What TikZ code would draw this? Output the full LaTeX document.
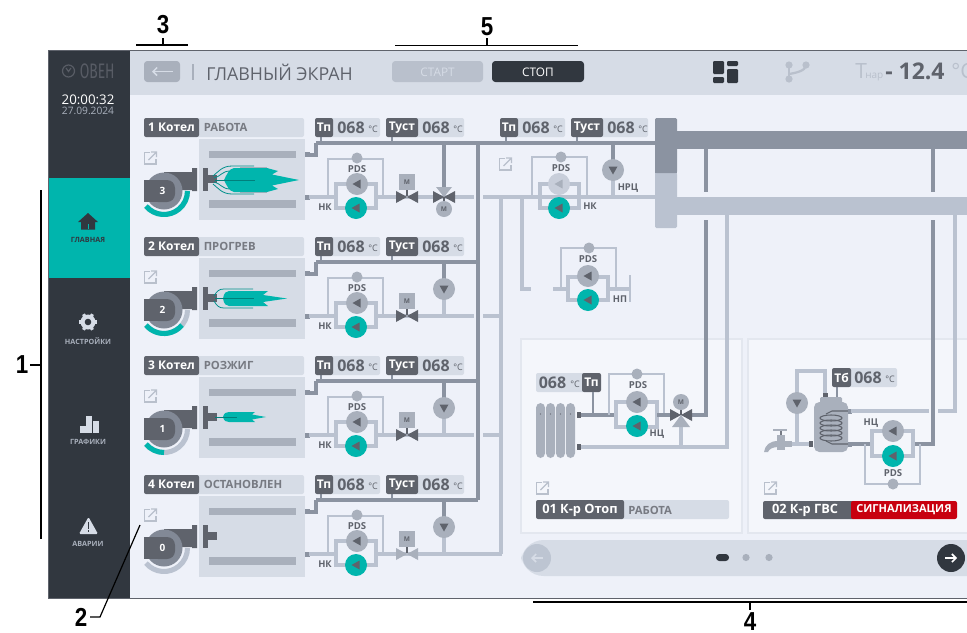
\documentclass[tikz,border=0pt]{standalone}
\usepackage{fontspec}
\usetikzlibrary{arrows.meta}
\setmainfont{Open Sans}
\newfontfamily\annfont{Liberation Sans}
\newfontfamily\logofont{Fira Sans}
\definecolor{dk}{HTML}{31373F}
\definecolor{gr}{HTML}{5F636C}
\definecolor{md}{HTML}{A9B0BC}
\definecolor{hot}{HTML}{8B93A1}
\definecolor{cold}{HTML}{BAC2D0}
\definecolor{lt}{HTML}{D6DCE6}
\definecolor{bgc}{HTML}{EEF1F9}
\definecolor{tl}{HTML}{00B5AD}
\definecolor{tld}{HTML}{00807C}
\definecolor{crd}{HTML}{F4F6FB}
\definecolor{crb}{HTML}{E3E7EF}
\definecolor{ext}{HTML}{B9C0CC}
\definecolor{sig}{HTML}{C8000F}
\newcounter{nn}
\newcommand{\fs}[1]{\fontsize{\dimexpr#1pt*3/4\relax}{\dimexpr#1pt*3/4\relax}\selectfont}
\newcommand{\lab}[5][center]{\stepcounter{nn}\node[inner sep=0,anchor=#1,text=#3] (t\thenn) at (#2) {#4#5};}
\newcommand{\annum}[2]{\lab{#1}{black}{\annfont\bfseries\fs{26}}{\scalebox{.86}[1]{#2}}}
\tikzset{
 hotp/.style={draw=hot,line width=2.9pt},
 hotpw/.style={draw=hot,line width=2.6pt},
 coldp/.style={draw=cold,line width=2.6pt},
 thinp/.style={draw=cold,line width=1.3pt},
 ann/.style={draw=black,line width=0.9pt},
 extic/.style={draw=ext,line width=0.9pt},
}
\newcommand{\extlink}[2]{\begin{scope}[shift={(#1,#2)}]
 \draw[extic] (6,1.5)--(0.5,1.5)--(0.5,13)--(12,13)--(12,7.5);
 \draw[extic] (4.5,9)--(12,1.5) (7,1)--(12.5,1)--(12.5,6);
 \end{scope}}
\newcommand{\pumpL}[4]{\fill[#3] (#1,#2) circle (11);
 \fill[#4] (#1-4.5,#2)--(#1+3.5,#2-4.5)--(#1+3.5,#2+4.5)--cycle;}
\newcommand{\pumpD}[2]{\fill[md] (#1,#2) circle (11);
 \fill[gr] (#1,#2+4.5)--(#1-4.5,#2-3.5)--(#1+4.5,#2-3.5)--cycle;}
\newcommand{\vbow}[3]{\fill[#3] (#1-11,#2-6)--(#1,#2)--(#1-11,#2+6)--cycle;
 \fill[#3] (#1+11,#2-6)--(#1,#2)--(#1+11,#2+6)--cycle;}
\newcommand{\squarem}[2]{\fill[md] (#1-8,#2-8) rectangle (#1+8,#2+8);
 \lab{#1,#2}{gr}{\bfseries\fs{6.5}}{М}
 \draw[gr,line width=0.8pt] (#1,#2+8)--(#1,#2+14);}
\newcommand{\circm}[2]{\fill[md] (#1,#2) circle (8);
 \lab{#1,#2}{gr}{\bfseries\fs{6.5}}{М}}
\newcommand{\tagbox}[5]{% y, x0, x1, x2, label
 \fill[lt,rounded corners=1.5] (#3-3,#1) rectangle (#4,#1+19);
 \fill[gr,rounded corners=1.5] (#2,#1) rectangle (#3,#1+19);
 \lab{#2/2+#3/2,#1+9.5}{white}{\bfseries\fs{12}}{#5}
 \lab[west]{#3+4,#1+9.7}{gr}{\bfseries\fs{16}}{068}
 \lab[west]{#3+35,#1+11}{gr}{\fs{9}}{°C}}
\newcommand{\boilerrow}[7]{% dy, num, name, gaugeang-end, valve colour, gnum, flame code
\begin{scope}[shift={(0,#1)}]
 \fill[lt,rounded corners=1.5] (196,118) rectangle (304,137);
 \fill[gr,rounded corners=1.5] (144,118) rectangle (199,137);
 \lab{171.5,127.5}{white}{\bfseries\fs{12}}{#2 Котел}
 \lab[west]{203.5,127.5}{gr!85!white}{\bfseries\fs{11.3}}{#3}
 \fill[lt] (199,139) rectangle (305,220);
 \fill[md] (209,151) rectangle (296,158);
 \fill[md] (209,200) rectangle (296,208);
 \extlink{144}{151}
 \fill[gr] (164,172)--(192,172)--(192,168)--(197,168)--(197,191)--(192,191)--(192,190)--(178,190)--(164,190)--cycle;
 \draw[cold,line width=3.8pt] (164,191)+(140:23.5) arc (140:0:23.5);
 \ifnum#4<140 \draw[tl,line width=3.8pt] (164,191)+(140:23.5) arc (140:#4:23.5);\fi
 \fill[hot!80!gr] (164,191) circle (18.5);
 \fill[gr,rounded corners=6] (150,180) rectangle (175,202);
 \fill[gr] (144,180) rectangle (160,202);
 \lab{162.5,190.5}{white}{\bfseries\fs{10}}{#6}
 \fill[gr] (203,168) rectangle (208,191);
 \fill[gr] (208,175) rectangle (217,183);
 #7
 \fill[hot] (305,152) rectangle (310,157);
 \fill[hot] (305,194.5) rectangle (310,200);
 \draw[hotpw] (309,155)--(316,155)--(316,143);
 \draw[coldp] (309,197)--(337,197);
 \draw[hot,line width=1pt] (321,137)--(321,143);
 \draw[hot,line width=1pt] (392,137)--(392,143);
 \tagbox{118}{315}{333}{380}{Тп}
 \tagbox{118}{386}{418}{464}{Туст}
 \draw[thinp] (328,197)--(328,159)--(383,159)--(383,197);
 \fill[md] (357,158) circle (5.5);
 \lab{357,169.5}{gr}{\bfseries\fs{9.6}}{PDS}
 \draw[coldp] (336,184)rectangle(376,208);
 \pumpL{357}{184}{md}{gr}
 \pumpL{356}{208}{tl}{gr}
 \lab{325,207}{gr}{\bfseries\fs{9.4}}{НК}
 \draw[coldp] (376,197)--(474,197);
 \squarem{407}{182}
 \vbow{407}{197}{#5}
\end{scope}}
\newcommand{\flameA}{
 \fill[md] (240,167) rectangle (267,193);
 \fill[tl] (224,180) .. controls (227,174) and (229,169) .. (234,168) -- (267,168) -- (278,171) -- (272,174.5) -- (299,180) -- (272,185.5) -- (278,189) -- (267,192) -- (234,192) .. controls (229,191) and (227,186) .. (224,180) -- cycle;
 \draw[tld!70!tl,line width=0.6pt] (213,176) .. controls (218,172) and (222,166) .. (232,166) -- (254,166);
 \draw[tld!70!tl,line width=0.6pt] (213,184) .. controls (218,188) and (222,194) .. (232,194) -- (254,194);
 \draw[tld!70!tl,line width=0.6pt] (214,178) .. controls (220,177) and (222,171) .. (230,171);
 \draw[tld!70!tl,line width=0.6pt] (214,182) .. controls (220,183) and (222,189) .. (230,189);
 \draw[tld,line width=0.5pt] (215,180)--(255,180);}
\newcommand{\flameB}{
 \fill[tl] (223,179.5) .. controls (224,174) and (226,172) .. (229,172) -- (268,172) -- (263,176) -- (287,179.5) -- (263,183) -- (268,187) -- (229,187) .. controls (226,187) and (224,185) .. (223,179.5) -- cycle;
 \draw[tld!70!tl,line width=0.6pt] (214,177) .. controls (217,172) and (219,170) .. (224,170) -- (253,170);
 \draw[tld!70!tl,line width=0.6pt] (214,182) .. controls (217,187) and (219,189) .. (224,189) -- (253,189);
 \draw[tld,line width=0.5pt] (215,179.5)--(254,179.5);}
\newcommand{\flameC}{
 \fill[tl] (223,179) .. controls (224,175) and (226,174) .. (229,174) -- (255,174) -- (252,176.5) -- (266,179) -- (252,181.5) -- (255,184) -- (229,184) .. controls (226,184) and (224,183) .. (223,179) -- cycle;
 \draw[tld,line width=0.5pt] (215,179)--(237,179);}
\begin{document}
\begin{tikzpicture}[x=0.75pt,y=-0.75pt]
\useasboundingbox (0,0) rectangle (967,632);
\fill[white] (0,0) rectangle (967,632);
\fill[bgc] (48,50) rectangle (967,598);
\fill[lt] (130,50) rectangle (967,95);
\fill[dk] (48,50) rectangle (130,598);
\fill[tl] (49,178) rectangle (130,278);
\draw[gr,line width=0.7pt] (967,50.5)--(48.5,50.5)--(48.5,598)--(967,598);
\draw[gr!85!dk,line width=0.9pt] (68.5,71) circle (6);
\draw[gr!85!dk,line width=0.9pt] (66,68)--(68.5,71.5)--(71,68);
\lab[west]{79.5,71.5}{gr!85!dk}{\logofont\fs{21}}{\scalebox{.66}[1]{ОВЕН}}
\lab{88,100}{white}{\fs{13.3}}{20:00:32}
\lab{88,111}{md}{\fs{10.2}}{27.09.2024}
\fill[dk] (88,213)--(98,222)--(95,222)--(95,229.5)--(81,229.5)--(81,222)--(78,222)--cycle;
\fill[tl] (87.5,224) rectangle (88.7,229);
\lab{88,240}{dk}{\bfseries\fs{7.2}}{ГЛАВНАЯ}
\fill[lt] (88,322) circle (7.5);
\foreach \a in {0,60,...,300}{\draw[lt,line width=2.4pt] (88,322)+(\a:6)--+(\a:9);}
\fill[dk] (88,322) circle (3.3);
\lab{88,341}{md}{\bfseries\fs{7.2}}{НАСТРОЙКИ}
\fill[lt] (79.5,426) rectangle (85.5,433);
\fill[lt] (85.5,416) rectangle (91.5,433);
\fill[lt] (92.5,421) rectangle (98.5,433);
\lab{88,442}{md}{\bfseries\fs{7.2}}{ГРАФИКИ}
\fill[lt,rounded corners=1] (88.5,517)--(98,534)--(79,534)--cycle;
\fill[dk] (87.8,522) rectangle (89.2,529);
\fill[dk] (87.8,530) rectangle (89.2,532);
\lab{88,544}{md}{\bfseries\fs{7.2}}{АВАРИИ}
\fill[md,rounded corners=2.5] (144,61) rectangle (180,82);
\draw[lt,line width=1.1pt,-{Straight Barb[length=3pt,width=6pt]}] (173,71.5)--(152,71.5);
\draw[md,line width=1pt] (193,64)--(193,80);
\lab[west]{206,72}{gr}{\fs{17.8}}{ГЛАВНЫЙ ЭКРАН}
\fill[ext,rounded corners=2.5] (392,61) rectangle (483,82);
\lab{437.5,72}{lt}{\fs{11.8}}{СТАРТ}
\fill[dk,rounded corners=2.5] (492,61) rectangle (584,82);
\lab{538,72}{white}{\fs{11.8}}{СТОП}
\fill[dk,rounded corners=0.8] (713,61) rectangle (724,74);
\fill[dk,rounded corners=0.8] (713,77) rectangle (724,83);
\fill[dk,rounded corners=0.8] (727,61) rectangle (738,66);
\fill[dk,rounded corners=0.8] (727,69) rectangle (738,83);
\fill[ext] (789,65) circle (3.6) (806,65) circle (3.6) (789,79) circle (3.6);
\draw[ext,line width=1.7pt] (789,65)--(789,79);
\draw[ext,line width=1.7pt] (806,65) .. controls (806,71) and (795,73) .. (789,74);
\lab[west]{855,71}{ext}{\fs{21}}{Т}
\lab[west]{865,77}{ext}{\fs{10}}{нар}
\lab[west]{885,71}{gr}{\bfseries\fs{23}}{- 12.4}
\lab[west]{951,71}{ext}{\fs{21}}{°С}
\boilerrow{0}{1}{РАБОТА}{0}{gr}{3}{\flameA}
\boilerrow{119}{2}{ПРОГРЕВ}{40}{gr}{2}{\flameB}
\boilerrow{238}{3}{РОЗЖИГ}{90}{gr}{1}{\flameC}
\boilerrow{357}{4}{ОСТАНОВЛЕН}{140}{md}{0}{}
\draw[hotp] (444,143)--(444,188);
\fill[md] (436,187)--(452,187)--(444,197)--cycle;
\vbow{444}{197}{gr}
\draw[gr,line width=0.8pt] (444,197)--(444,203);
\circm{444}{209}
\foreach \d in {119,238,357}{
 \draw[hotp] (444,143+\d)--(444,170+\d);
 \draw[coldp] (444,170+\d)--(444,197+\d);
 \pumpD{444}{170+\d}
}
\draw[hotp] (316,143)--(655,143);
\draw[hotp] (316,262)--(478,262);
\draw[hotp] (316,381)--(478,381);
\draw[hotp] (316,500)--(478,500);
\draw[hotp] (478,143)--(478,500);
\draw[coldp] (483,197)--(655,197);
\draw[coldp] (501,197)--(501,554);
\draw[coldp] (483,316)--(501,316);
\draw[coldp] (483,435)--(501,435);
\draw[coldp] (474,554)--(502,554);
\draw[coldp] (522,197)--(522,289)--(531,289);
\draw[hot,line width=1pt] (506,137)--(506,143);
\draw[hot,line width=1pt] (577,137)--(577,143);
\tagbox{118}{500}{518}{565}{Тп}
\tagbox{118}{571}{603}{648}{Туст}
\extlink{499}{157}
\draw[thinp] (532,197)--(532,157)--(587,157)--(587,197);
\fill[md] (561,157) circle (5.5);
\lab{561,168}{gr}{\bfseries\fs{9.6}}{PDS}
\draw[coldp] (540,184) rectangle (579,208);
\pumpL{559}{184}{cold!80!white}{md}
\pumpL{559}{208}{tl}{gr}
\lab{590,206}{gr}{\bfseries\fs{9.4}}{НК}
\draw[hotp] (613,143)--(613,165);
\draw[coldp] (613,175)--(613,197);
\pumpD{613}{170}
\lab{628,188}{gr}{\bfseries\fs{9.4}}{НРЦ}
\draw[thinp] (561,289)--(561,248)--(616,248)--(616,289);
\fill[md] (589,248) circle (5.5);
\lab{588,259}{gr}{\bfseries\fs{9.6}}{PDS}
\draw[coldp] (553,289)--(568,289);
\draw[coldp] (568,277) rectangle (608,300);
\draw[coldp] (608,289)--(630,289);
\draw[thinp] (630,275)--(630,302);
\pumpL{588}{276}{md}{gr}
\pumpL{588}{300}{tl}{gr}
\lab{620,299}{gr}{\bfseries\fs{9.4}}{НП}
\fill[crd,draw=crb,line width=0.8pt] (521,339) rectangle (742,533);
\fill[crd,draw=crb,line width=0.8pt] (748,339) rectangle (975,533);
\fill[cold,rounded corners=1] (655,173) rectangle (677,228);
\fill[cold] (655,173) rectangle (677,180);
\fill[hot,rounded corners=1] (655,118) rectangle (677,173);
\fill[hot] (655,165) rectangle (677,173);
\fill[hot] (677,131) rectangle (967,149);
\fill[cold] (677,197) rectangle (967,215);
\draw[hotpw] (706,149)--(706,192);
\draw[hotpw] (933,149)--(933,192);
\draw[hotpw] (706,220)--(706,415)--(692,415);
\draw[hotpw] (933,220)--(933,444)--(913,444);
\draw[coldp] (727,215)--(727,447)--(581,447);
\draw[coldp] (955,215)--(955,411)--(938,411);
\fill[lt,rounded corners=1.5] (536,373) rectangle (585,392);
\fill[gr,rounded corners=1.5] (582,373) rectangle (601,392);
\lab{591.5,382.5}{white}{\bfseries\fs{12}}{Тп}
\lab[west]{538.5,382.7}{gr}{\bfseries\fs{16}}{068}
\lab[west]{570,384}{gr}{\fs{9}}{°C}
\foreach \x in {536,546,556,566}{
 \fill[md,rounded corners=3.5] (\x,403) rectangle (\x+9,458);
 \fill[gr] (\x+4.5,414) circle (0.7);
}
\fill[gr] (576.5,412) rectangle (581,418);
\fill[gr] (576.5,444) rectangle (581,450);
\draw[hotpw] (581,415)--(616,415);
\draw[hot,line width=1pt] (593,392)--(593,415);
\draw[thinp] (609,415)--(609,374)--(664,374)--(664,415);
\fill[md] (637,374) circle (5.5);
\lab{638,385}{gr}{\bfseries\fs{9.6}}{PDS}
\draw[coldp] (616,402) rectangle (657,427);
\draw[hotpw] (657,415)--(670,415);
\pumpL{637}{402}{md}{gr}
\pumpL{637}{426}{tl}{gr}
\lab{657,434}{gr}{\bfseries\fs{9.4}}{НЦ}
\draw[coldp] (681,425)--(681,447);
\fill[md] (672,427)--(690,427)--(681,415)--cycle;
\vbow{681}{415}{gr}
\draw[gr,line width=0.8pt] (681,409)--(681,415);
\circm{681}{402}
\extlink{536}{481}
\fill[lt,rounded corners=1.5] (620,500) rectangle (729,519);
\fill[gr,rounded corners=1.5] (536,500) rectangle (624,519);
\lab{580,510}{white}{\bfseries\fs{12.8}}{01 К-р Отоп}
\lab[west]{628,510}{gr!85!white}{\bfseries\fs{11.3}}{РАБОТА}
\draw[coldp] (825,393)--(825,371)--(797,371)--(797,444);
\draw[coldp] (786,444)--(811,444);
\pumpD{797}{403}
\fill[gr] (822.5,393) rectangle (827.5,398);
\fill[gr] (809,441) rectangle (813,447);
\fill[md,rounded corners=1] (820,397) rectangle (842,404);
\fill[md,rounded corners=4] (814,402) rectangle (848,452);
\draw[gr,line width=0.8pt] (848,411)--(832,411)--(826,414);
\draw[gr,line width=0.8pt] (848,444)--(832,444)--(826,441);
\foreach \y in {418,423,428,433,438}{\draw[gr,line width=0.8pt] (831,\y) ellipse (11 and 3);}
\fill[hot] (848,408.5) rectangle (852,413.5);
\fill[hot] (848,441.5) rectangle (852,446.5);
\draw[coldp] (851,411)--(929,411);
\draw[hotpw] (851,444)--(872,444);
\draw[thinp] (865,444)--(865,484)--(920,484)--(920,444);
\draw[coldp] (872,431) rectangle (913,456);
\pumpL{893}{431}{md}{gr}
\pumpL{893}{456}{tl}{gr}
\fill[md] (893,484) circle (5.5);
\lab{893,473}{gr}{\bfseries\fs{9.6}}{PDS}
\lab{871,423}{gr}{\bfseries\fs{9.4}}{НЦ}
\draw[hot,line width=1pt] (837,387)--(837,397);
\fill[lt,rounded corners=1.5] (848,368) rectangle (897,387);
\fill[gr,rounded corners=1.5] (832,368) rectangle (851,387);
\lab{841.5,377.5}{white}{\bfseries\fs{12}}{Тб}
\lab[west]{854,377.7}{gr}{\bfseries\fs{16}}{068}
\lab[west]{885,379}{gr}{\fs{9}}{°C}
\fill[md] (777,435) rectangle (785,450);
\fill[md] (785,441) rectangle (792,447);
\fill[gr!70!md] (779.5,430) rectangle (782,435);
\draw[md,line width=1.1pt] (773,430)--(787,430);
\fill[md] (778,441) .. controls (770,441) and (765,445) .. (764,452) -- (768,452) .. controls (769,449) and (773,447) .. (778,447) -- cycle;
\extlink{764}{481}
\fill[gr,rounded corners=1.5] (763,501) rectangle (855,519);
\fill[sig,rounded corners=1.5] (851,501) rectangle (957,519);
\lab{805,510}{white}{\bfseries\fs{12.8}}{02 К-р ГВС}
\lab{904,510}{white}{\bfseries\fs{11}}{СИГНАЛИЗАЦИЯ}
\fill[lt,rounded corners=17] (521,540) rectangle (1000,576);
\fill[cold!90!lt] (537,558) circle (14);
\draw[lt,line width=1.2pt,-{Straight Barb[length=3pt,width=6pt]}] (543,558)--(531,558);
\fill[dk,rounded corners=2.5] (716,554) rectangle (729,561);
\fill[md] (746,557.5) circle (3.6) (769,557.5) circle (3.6);
\fill[dk] (951,558) circle (14);
\draw[white,line width=1.2pt,-{Straight Barb[length=3pt,width=6pt]}] (945,558)--(957,558);
\draw[ann] (136,45)--(188,45) (163,45)--(163,38);
\annum{163,25}{3}
\draw[ann] (395,45.5)--(578,45.5) (487,45.5)--(487,38);
\annum{487,27}{5}
\draw[ann] (41,190)--(41,539) (41,365)--(30,365);
\annum{22,365}{1}
\draw[ann] (90,617)--(100,617)--(140,525);
\annum{81,617}{2}
\draw[ann] (533,602)--(967,602) (750,602)--(750,610);
\annum{750,622}{4}
\end{tikzpicture}
\end{document}
